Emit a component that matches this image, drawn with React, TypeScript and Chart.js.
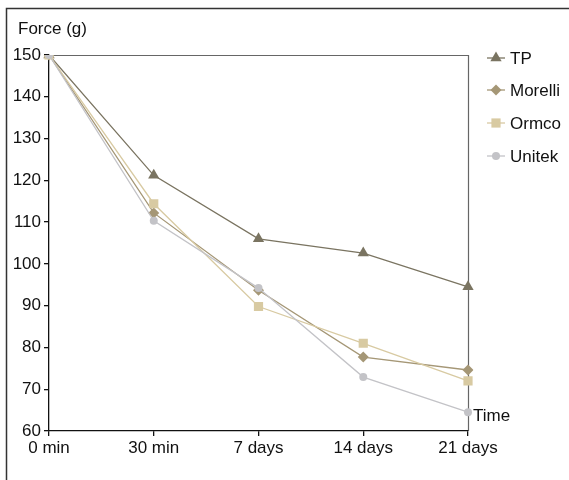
import React, { useEffect, useRef } from "react";
import { Chart, registerables } from "chart.js";

Chart.register(...registerables);

const categories = ["0 min", "30 min", "7 days", "14 days", "21 days"];
const tpValues = [150, 121.2, 106, 102.6, 94.5];
const morelliValues = [150, 112.2, 93.7, 77.7, 74.6];
const ormcoValues = [150, 114.4, 89.8, 81, 72];
const unitekValues = [150, 110.3, 94.2, 72.9, 64.5];
const seriesNames = ["TP", "Morelli", "Ormco", "Unitek"];
const yTitle = "Force (g)";
const xTitle = "Time";

const FONT = "'Liberation Sans', Arial, sans-serif";

function drawMarker(ctx: CanvasRenderingContext2D, style: string, x: number, y: number, r: number, color: string) {
  ctx.save();
  ctx.fillStyle = color;
  ctx.beginPath();
  if (style === "triangle") {
    for (let i = 0; i < 3; i++) {
      const a = -Math.PI / 2 + (i * 2 * Math.PI) / 3;
      const px = x + Math.cos(a) * r;
      const py = y + Math.sin(a) * r;
      if (i === 0) ctx.moveTo(px, py);
      else ctx.lineTo(px, py);
    }
    ctx.closePath();
  } else if (style === "rectRot") {
    ctx.moveTo(x, y - r);
    ctx.lineTo(x + r, y);
    ctx.lineTo(x, y + r);
    ctx.lineTo(x - r, y);
    ctx.closePath();
  } else if (style === "rect") {
    const s = Math.SQRT1_2 * r;
    ctx.rect(x - s, y - s, 2 * s, 2 * s);
  } else {
    ctx.arc(x, y, r, 0, Math.PI * 2);
  }
  ctx.fill();
  ctx.restore();
}

const decorPlugin = {
  id: "decor",
  beforeDraw(chart: any) {
    const ctx = chart.ctx as CanvasRenderingContext2D;
    const { left, right, top, bottom } = chart.chartArea;
    ctx.save();
    ctx.strokeStyle = "#333333";
    ctx.lineWidth = 1.5;
    ctx.beginPath();
    ctx.moveTo(569, 8.5);
    ctx.lineTo(6.5, 8.5);
    ctx.lineTo(6.5, 480);
    ctx.stroke();
    ctx.strokeStyle = "#666666";
    ctx.lineWidth = 1.2;
    ctx.beginPath();
    ctx.moveTo(left, top + 0.5);
    ctx.lineTo(right + 0.5, top + 0.5);
    ctx.lineTo(right + 0.5, bottom);
    ctx.stroke();
    ctx.restore();
  },
  afterDraw(chart: any) {
    const ctx = chart.ctx as CanvasRenderingContext2D;
    ctx.save();
    ctx.fillStyle = "#111111";
    ctx.font = `17px ${FONT}`;
    ctx.textBaseline = "alphabetic";
    ctx.textAlign = "left";
    ctx.fillText(yTitle, 18, 34);
    ctx.fillText(xTitle, 473, 421);
    const rows = [58, 90, 123, 156];
    const byName: any = {};
    chart.data.datasets.forEach((ds: any) => {
      byName[ds.label] = ds;
    });
    seriesNames.forEach((name, i) => {
      const ds = byName[name];
      const y = rows[i];
      ctx.strokeStyle = ds.borderColor;
      ctx.lineWidth = 1.3;
      ctx.beginPath();
      ctx.moveTo(487, y);
      ctx.lineTo(505, y);
      ctx.stroke();
      drawMarker(ctx, ds.pointStyle, 496, y, ds.pointRadius, ds.pointBackgroundColor);
      ctx.fillStyle = "#111111";
      ctx.textBaseline = "middle";
      ctx.fillText(ds.label, 510, y + 1);
    });
    ctx.restore();
  },
};

export default function App() {
  const ref = useRef<HTMLCanvasElement | null>(null);
  useEffect(() => {
    if (!ref.current) return;
    const mk = (label: string, data: number[], color: string, style: string, r: number) => ({
      label,
      data,
      borderColor: color,
      backgroundColor: color,
      pointBackgroundColor: color,
      pointBorderColor: color,
      pointBorderWidth: 0,
      pointStyle: style,
      pointRadius: r,
      borderWidth: 1.3,
      tension: 0,
    });
    const chart = new Chart(ref.current, {
      type: "line",
      data: {
        labels: categories,
        datasets: [
          mk(seriesNames[3], unitekValues, "#c3c3c7", "circle", 4),
          mk(seriesNames[2], ormcoValues, "#d8caa2", "rect", 6.5),
          mk(seriesNames[1], morelliValues, "#a59776", "rectRot", 5.5),
          mk(seriesNames[0], tpValues, "#7a7461", "triangle", 6.5),
        ] as any,
      },
      options: {
        animation: false,
        responsive: true,
        maintainAspectRatio: false,
        layout: { padding: { left: 0, top: 55, right: 101, bottom: 0 } },
        plugins: { legend: { display: false }, tooltip: { enabled: false } },
        scales: {
          x: {
            offset: false,
            afterFit: (s: any) => {
              s.height = 49;
            },
            border: { color: "#111111", width: 1.3 },
            grid: { display: true, drawOnChartArea: false, drawTicks: true, tickLength: 5, color: "#111111", lineWidth: 1.3 },
            ticks: { color: "#111111", font: { family: FONT, size: 17 }, padding: 2, maxRotation: 0, autoSkip: false },
          },
          y: {
            min: 60,
            max: 150,
            afterFit: (s: any) => {
              s.width = 49;
            },
            border: { color: "#111111", width: 1.3 },
            grid: { display: true, drawOnChartArea: false, drawTicks: true, tickLength: 5, color: "#111111", lineWidth: 1.3 },
            ticks: { stepSize: 10, color: "#111111", font: { family: FONT, size: 17 }, padding: 3 },
          },
        },
      },
      plugins: [decorPlugin],
    });
    return () => chart.destroy();
  }, []);

  return (
    <div style={{ position: "fixed", left: 0, top: 0, width: 569, height: 480, background: "#fff" }}>
      <canvas ref={ref} />
    </div>
  );
}
